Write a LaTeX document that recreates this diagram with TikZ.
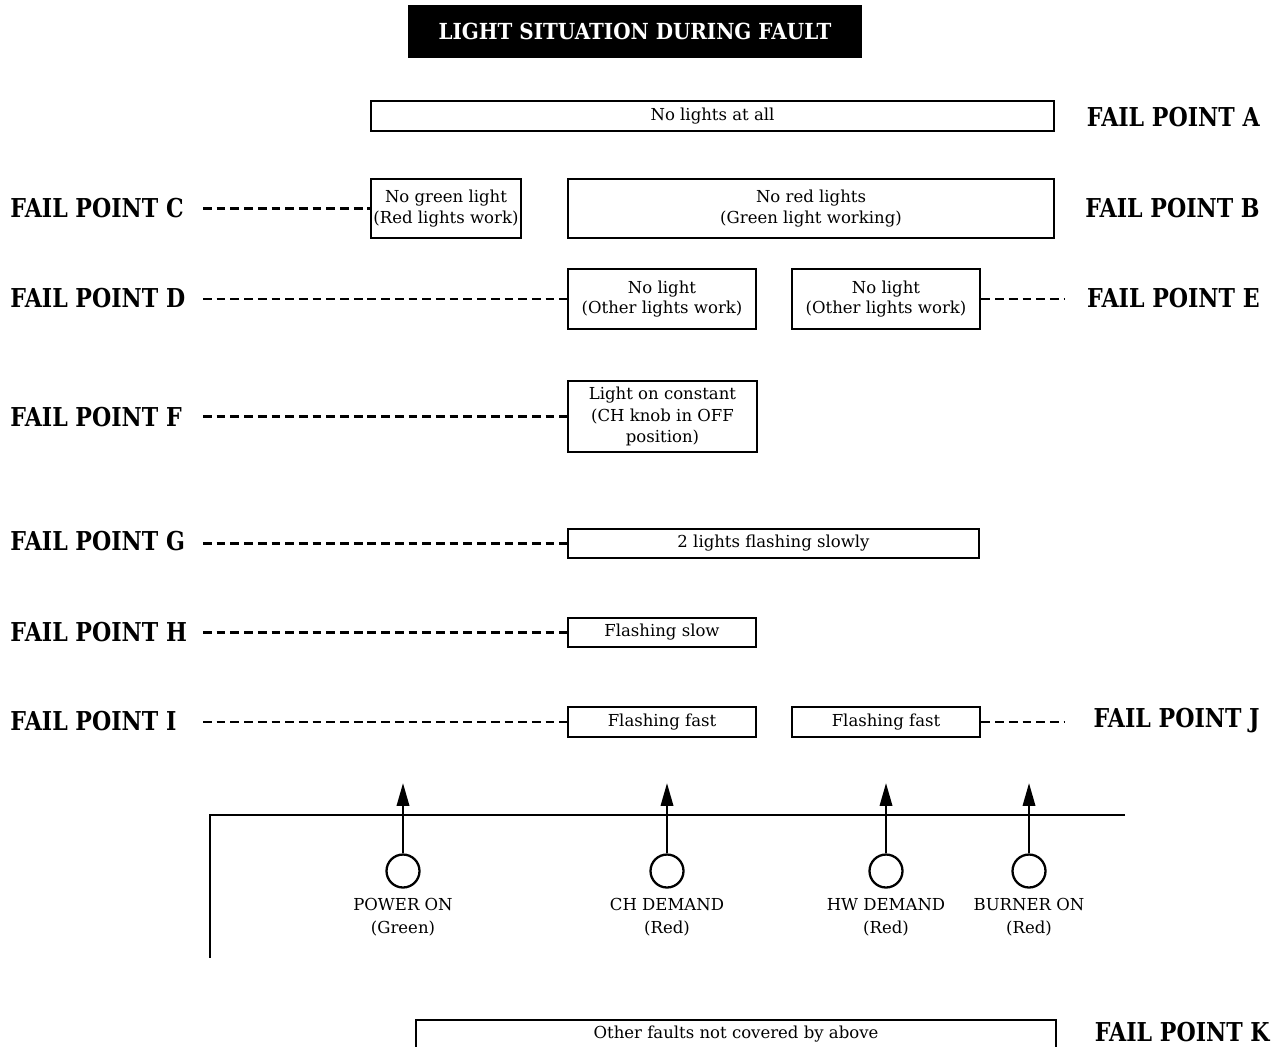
\documentclass[tikz,border=0pt]{standalone}
\usepackage{fontspec}
\setmainfont{DejaVu Serif}
\newfontfamily\lblfont{DejaVu Serif}[FakeStretch=0.85]
\newfontfamily\ttlfont{DejaVu Serif}[FakeStretch=0.9]
\usetikzlibrary{arrows.meta}
\begin{document}
\begin{tikzpicture}[x=0.02cm,y=-0.02cm,
  bx/.style={draw, line width=1.6pt, inner sep=0pt, align=center,
    font=\fontsize{9.4}{11.6}\selectfont},
  lbl/.style={inner sep=0pt, font=\lblfont\bfseries\fontsize{14.8}{16}\selectfont},
  dline/.style={line width=1.2pt, dash pattern=on 5pt off 2.8pt},
  lamp/.style={circle, draw, line width=1.3pt, minimum size=0.66cm, inner sep=0pt},
  lamplbl/.style={inner sep=0pt, align=center, font=\fontsize{9.4}{13}\selectfont},
  arr/.style={line width=1.4pt, -{Triangle[width=7pt,length=13pt]}}
]
\clip (0,0) rectangle (1273,1046);
\useasboundingbox (0,0) rectangle (1273,1046);

% title
\node[fill=black, minimum width=9.08cm, minimum height=1.06cm, inner sep=0pt,
  text=white, font=\ttlfont\bfseries\fontsize{12.6}{14}\selectfont] (title) at (635,31.5) {LIGHT SITUATION DURING FAULT};

% boxes
\node[bx, minimum width=13.66cm, minimum height=0.6cm] (A) at (712.5,116) {No lights at all};
\node[bx, minimum width=3.0cm, minimum height=1.18cm] (C) at (446,208.5) {No green light\\(Red lights work)};
\node[bx, minimum width=9.72cm, minimum height=1.18cm] (B) at (811,208.5) {No red lights\\(Green light working)};
\node[bx, minimum width=3.76cm, minimum height=1.2cm] (D) at (662,299) {No light\\(Other lights work)};
\node[bx, minimum width=3.76cm, minimum height=1.2cm] (E) at (886,299) {No light\\(Other lights work)};
\node[bx, minimum width=3.78cm, minimum height=1.42cm, font=\fontsize{9.4}{12}\selectfont] (F) at (662.5,416.5) {Light on constant\\(CH knob in OFF\\position)};
\node[bx, minimum width=8.22cm, minimum height=0.58cm] (G) at (773.5,543.5) {2 lights flashing slowly};
\node[bx, minimum width=3.76cm, minimum height=0.58cm] (H) at (662,632.5) {Flashing slow};
\node[bx, minimum width=3.76cm, minimum height=0.6cm] (I) at (662,722) {Flashing fast};
\node[bx, minimum width=3.76cm, minimum height=0.6cm] (J) at (886,722) {Flashing fast};
\node[bx, minimum width=12.8cm, minimum height=0.56cm] (K) at (736,1034) {Other faults not covered by above};

% labels
\node[lbl, anchor=east] (lA) at (1260,117) {FAIL POINT A};
\node[lbl, anchor=east] (lB) at (1260,208) {FAIL POINT B};
\node[lbl, anchor=west] (lC) at (10,208) {FAIL POINT C};
\node[lbl, anchor=west] (lD) at (10,298) {FAIL POINT D};
\node[lbl, anchor=east] (lE) at (1260,298) {FAIL POINT E};
\node[lbl, anchor=west] (lF) at (10,417) {FAIL POINT F};
\node[lbl, anchor=west] (lG) at (10,541) {FAIL POINT G};
\node[lbl, anchor=west] (lH) at (10,632) {FAIL POINT H};
\node[lbl, anchor=west] (lI) at (10,721) {FAIL POINT I};
\node[lbl, anchor=east] (lJ) at (1260,721) {FAIL POINT J};
\node[lbl, anchor=east] (lK) at (1270,1032) {FAIL POINT K};

% dashed connectors
\coordinate (dC) at (203,208.5);
\coordinate (dD) at (203,299);
\coordinate (dE) at (1065,299);
\coordinate (dF) at (203,416.5);
\coordinate (dG) at (203,543.5);
\coordinate (dH) at (203,632.5);
\coordinate (dI) at (203,722);
\coordinate (dJ) at (1065,722);
\draw[dline] (dC) -- (C.west);
\draw[dline] (dD) -- (D.west);
\draw[dline] (E.east) -- (dE);
\draw[dline] (dF) -- (F.west);
\draw[dline] (dG) -- (G.west);
\draw[dline] (dH) -- (H.west);
\draw[dline] (dI) -- (I.west);
\draw[dline] (J.east) -- (dJ);

% panel
\coordinate (p1) at (1125,815);
\coordinate (p2) at (210,815);
\coordinate (p3) at (210,958);
\draw[line width=1.2pt] (p1) -- (p2) -- (p3);

% lamps
\node[lamp] (L1) at (403,871) {};
\node[lamp] (L2) at (667,871) {};
\node[lamp] (L3) at (886,871) {};
\node[lamp] (L4) at (1029,871) {};
\coordinate (t1) at (403,783);
\coordinate (t2) at (667,783);
\coordinate (t3) at (886,783);
\coordinate (t4) at (1029,783);
\draw[arr] (L1.north) -- (t1);
\draw[arr] (L2.north) -- (t2);
\draw[arr] (L3.north) -- (t3);
\draw[arr] (L4.north) -- (t4);
\node[lamplbl] (n1) at (403,917.5) {POWER ON\\(Green)};
\node[lamplbl] (n2) at (667,917.5) {CH DEMAND\\(Red)};
\node[lamplbl] (n3) at (886,917.5) {HW DEMAND\\(Red)};
\node[lamplbl] (n4) at (1029,917.5) {BURNER ON\\(Red)};
\end{tikzpicture}
\end{document}
